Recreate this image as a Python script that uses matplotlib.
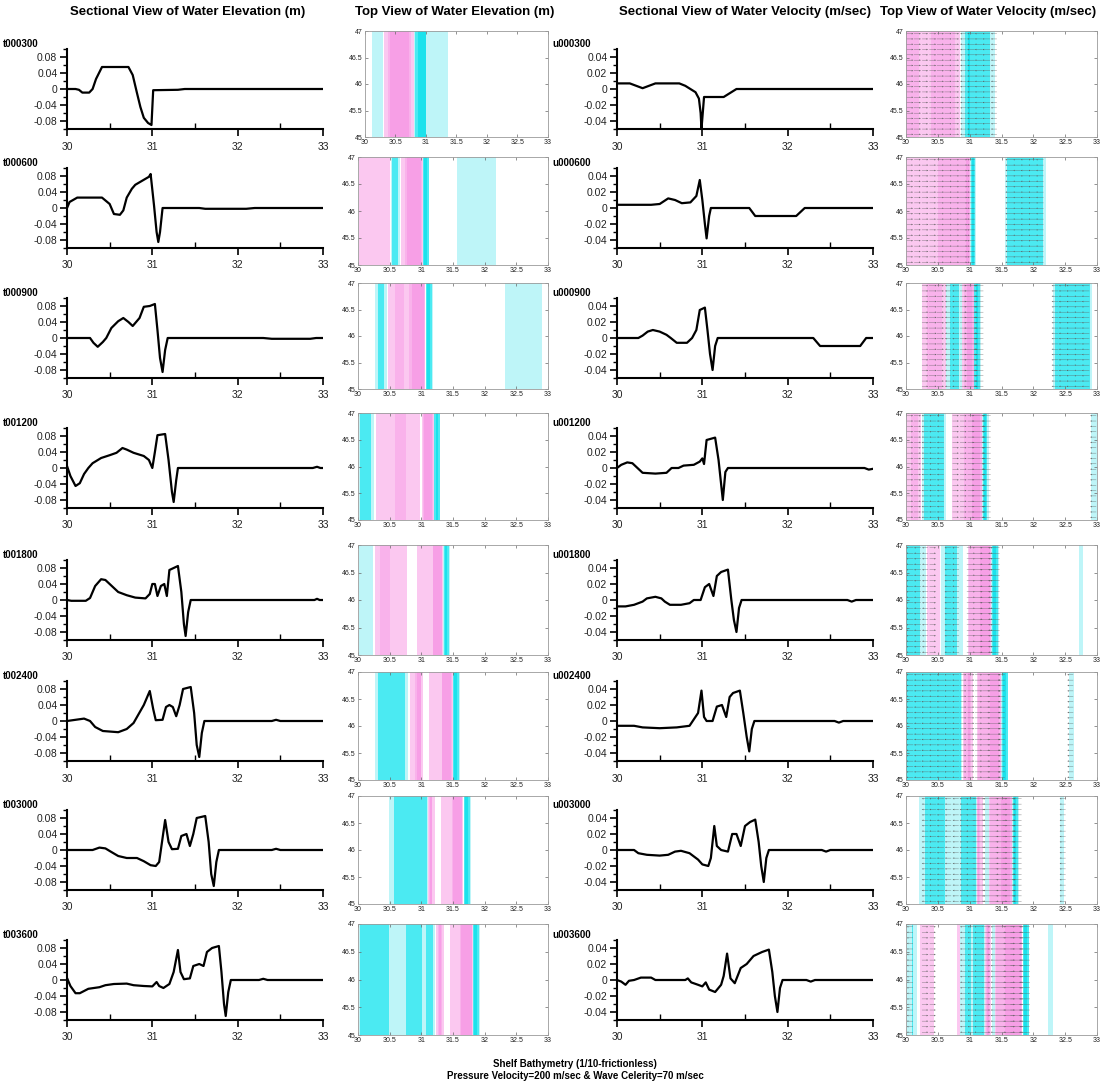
import numpy as np
import matplotlib
matplotlib.use("Agg")
import matplotlib.pyplot as plt
from matplotlib.ticker import MultipleLocator, FixedLocator, FuncFormatter

plt.rcParams['font.family'] = ['Liberation Sans', 'DejaVu Sans']

# ---- sectional profiles: (distance, water elevation in m) ----
elev_t000300 = [(30.0, 0.0), (30.1, 0.0), (30.14, -0.002), (30.18, -0.009), (30.26, -0.009), (30.3, 0.0),
                (30.34, 0.025), (30.41, 0.055), (30.72, 0.055), (30.77, 0.035), (30.82, -0.01), (30.86, -0.045),
                (30.9, -0.072), (30.95, -0.085), (30.99, -0.09), (31.01, -0.003), (31.3, -0.002), (31.38, 0.0),
                (33.0, 0.0)]
elev_t000600 = [(30.0, 0.0), (30.03, 0.015), (30.12, 0.026), (30.41, 0.026), (30.5, 0.01), (30.55, -0.015),
                (30.62, -0.017), (30.66, -0.006), (30.7, 0.026), (30.76, 0.048), (30.8, 0.058), (30.96, 0.078),
                (30.98, 0.085), (31.02, 0.006), (31.05, -0.06), (31.07, -0.085), (31.09, -0.06), (31.12, 0.0),
                (31.55, 0.0), (31.62, -0.002), (32.1, -0.002), (32.2, 0.0), (33.0, 0.0)]
elev_t000900 = [(30.0, 0.0), (30.27, 0.0), (30.31, -0.012), (30.36, -0.022), (30.42, -0.01), (30.46, 0.0),
                (30.52, 0.025), (30.6, 0.042), (30.66, 0.05), (30.72, 0.04), (30.77, 0.03), (30.85, 0.05),
                (30.9, 0.078), (30.97, 0.08), (31.03, 0.085), (31.06, 0.02), (31.09, -0.05), (31.12, -0.085),
                (31.15, -0.03), (31.18, 0.0), (32.3, 0.0), (32.4, -0.002), (32.85, -0.002), (32.92, 0.0),
                (33.0, 0.0)]
elev_t001200 = [(30.0, 0.005), (30.04, -0.02), (30.1, -0.045), (30.15, -0.038), (30.2, -0.015), (30.25, 0.0),
                (30.3, 0.012), (30.4, 0.025), (30.5, 0.032), (30.58, 0.038), (30.65, 0.05), (30.7, 0.046),
                (30.78, 0.038), (30.9, 0.03), (30.96, 0.02), (31.0, 0.0), (31.03, 0.04), (31.06, 0.082),
                (31.15, 0.085), (31.19, 0.02), (31.23, -0.06), (31.25, -0.085), (31.28, -0.03), (31.3, 0.0),
                (32.88, 0.0), (32.93, 0.003), (32.97, 0.0), (33.0, 0.0)]
elev_t001800 = [(30.0, 0.0), (30.05, -0.002), (30.22, -0.002), (30.27, 0.005), (30.33, 0.035), (30.4, 0.052),
                (30.45, 0.05), (30.5, 0.04), (30.6, 0.02), (30.7, 0.012), (30.8, 0.006), (30.92, 0.004),
                (30.97, 0.015), (31.0, 0.04), (31.03, 0.04), (31.06, 0.01), (31.1, 0.035), (31.14, 0.04),
                (31.17, 0.01), (31.2, 0.075), (31.3, 0.085), (31.34, 0.02), (31.37, -0.06), (31.39, -0.09),
                (31.42, -0.03), (31.45, 0.0), (32.9, 0.0), (32.93, 0.003), (32.96, 0.0), (33.0, 0.0)]
elev_t002400 = [(30.0, 0.0), (30.1, 0.003), (30.2, 0.006), (30.27, 0.0), (30.33, -0.015), (30.42, -0.025),
                (30.6, -0.028), (30.7, -0.02), (30.78, -0.005), (30.82, 0.01), (30.9, 0.04), (30.97, 0.075),
                (31.01, 0.03), (31.04, 0.002), (31.12, 0.003), (31.16, 0.035), (31.2, 0.04), (31.24, 0.035),
                (31.28, 0.012), (31.32, 0.04), (31.36, 0.08), (31.45, 0.085), (31.49, 0.02), (31.52, -0.06),
                (31.55, -0.09), (31.58, -0.03), (31.61, 0.0), (32.4, 0.0), (32.45, 0.003), (32.5, 0.0),
                (33.0, 0.0)]
elev_t003000 = [(30.0, 0.0), (30.3, 0.0), (30.38, 0.006), (30.45, 0.004), (30.52, -0.005), (30.6, -0.015),
                (30.7, -0.02), (30.82, -0.02), (30.9, -0.028), (30.98, -0.038), (31.04, -0.04), (31.08, -0.03),
                (31.12, 0.03), (31.15, 0.075), (31.19, 0.02), (31.23, 0.002), (31.3, 0.003), (31.34, 0.035),
                (31.4, 0.04), (31.44, 0.01), (31.48, 0.04), (31.52, 0.08), (31.62, 0.085), (31.66, 0.02),
                (31.69, -0.06), (31.72, -0.09), (31.75, -0.03), (31.78, 0.0), (32.4, 0.0), (32.45, 0.003),
                (32.5, 0.0), (33.0, 0.0)]
elev_t003600 = [(30.0, 0.005), (30.04, -0.015), (30.1, -0.033), (30.15, -0.033), (30.25, -0.022),
                (30.38, -0.018), (30.45, -0.013), (30.55, -0.01), (30.7, -0.009), (30.78, -0.013), (30.9, -0.015),
                (31.0, -0.016), (31.05, -0.005), (31.08, -0.015), (31.13, -0.02), (31.2, -0.01), (31.25, 0.02),
                (31.3, 0.075), (31.33, 0.02), (31.37, 0.002), (31.44, 0.004), (31.48, 0.035), (31.55, 0.04),
                (31.6, 0.035), (31.64, 0.07), (31.7, 0.08), (31.78, 0.085), (31.81, 0.02), (31.84, -0.06),
                (31.86, -0.09), (31.89, -0.03), (31.92, 0.0), (32.25, 0.0), (32.3, 0.003), (32.35, 0.0),
                (33.0, 0.0)]

# ---- sectional profiles: (distance, water velocity in m/sec) ----
vel_u000300 = [(30.0, 0.007), (30.15, 0.007), (30.3, 0.001), (30.45, 0.007), (30.73, 0.007), (30.8, 0.004),
               (30.86, 0.0), (30.92, -0.004), (30.96, -0.012), (30.98, -0.03), (30.99, -0.05), (31.02, -0.01),
               (31.25, -0.01), (31.4, 0.0), (33.0, 0.0)]
vel_u000600 = [(30.0, 0.004), (30.4, 0.004), (30.5, 0.005), (30.6, 0.012), (30.68, 0.01), (30.76, 0.006),
               (30.86, 0.007), (30.93, 0.015), (30.97, 0.035), (31.0, 0.01), (31.03, -0.02), (31.05, -0.038),
               (31.08, -0.01), (31.1, 0.0), (31.55, 0.0), (31.62, -0.01), (32.1, -0.01), (32.2, 0.0), (33.0, 0.0)]
vel_u000900 = [(30.0, 0.0), (30.25, 0.0), (30.3, 0.003), (30.36, 0.008), (30.42, 0.01), (30.5, 0.008),
               (30.58, 0.004), (30.63, 0.0), (30.7, -0.006), (30.82, -0.006), (30.88, 0.0), (30.93, 0.01),
               (30.97, 0.035), (31.03, 0.038), (31.06, 0.01), (31.09, -0.02), (31.12, -0.04), (31.15, -0.01),
               (31.18, 0.0), (32.3, 0.0), (32.38, -0.01), (32.85, -0.01), (32.92, 0.0), (33.0, 0.0)]
vel_u001200 = [(30.0, 0.0), (30.05, 0.004), (30.12, 0.007), (30.18, 0.006), (30.24, 0.0), (30.3, -0.006),
               (30.45, -0.007), (30.58, -0.006), (30.64, 0.0), (30.72, 0.0), (30.78, 0.003), (30.9, 0.004),
               (30.97, 0.008), (31.0, 0.012), (31.02, 0.005), (31.05, 0.035), (31.15, 0.038), (31.19, 0.01),
               (31.22, -0.02), (31.24, -0.04), (31.27, -0.005), (31.3, 0.0), (32.9, 0.0), (32.95, -0.002),
               (33.0, -0.001)]
vel_u001800 = [(30.0, -0.008), (30.1, -0.008), (30.2, -0.006), (30.3, -0.002), (30.35, 0.002), (30.45, 0.004),
               (30.52, 0.002), (30.56, -0.002), (30.62, -0.006), (30.75, -0.006), (30.85, -0.004), (30.9, 0.0),
               (30.98, 0.0), (31.03, 0.016), (31.08, 0.02), (31.13, 0.005), (31.17, 0.03), (31.22, 0.035),
               (31.3, 0.038), (31.34, 0.0), (31.37, -0.025), (31.4, -0.04), (31.43, -0.01), (31.46, 0.0),
               (32.7, 0.0), (32.75, -0.002), (32.8, 0.0), (33.0, 0.0)]
vel_u002400 = [(30.0, -0.006), (30.2, -0.006), (30.3, -0.008), (30.5, -0.009), (30.7, -0.008), (30.85, -0.006),
               (30.9, 0.002), (30.95, 0.01), (30.99, 0.038), (31.02, 0.005), (31.05, 0.0), (31.12, 0.0),
               (31.17, 0.018), (31.23, 0.02), (31.28, 0.005), (31.32, 0.03), (31.36, 0.035), (31.44, 0.038),
               (31.48, 0.01), (31.52, -0.02), (31.55, -0.038), (31.58, -0.01), (31.61, 0.0), (32.55, 0.0),
               (32.6, -0.002), (32.65, 0.0), (33.0, 0.0)]
vel_u003000 = [(30.0, 0.0), (30.2, 0.0), (30.25, -0.004), (30.35, -0.006), (30.5, -0.007), (30.6, -0.006),
               (30.68, -0.002), (30.75, -0.001), (30.85, -0.004), (30.95, -0.012), (31.0, -0.018), (31.07, -0.02),
               (31.1, -0.01), (31.14, 0.03), (31.17, 0.005), (31.22, 0.0), (31.3, -0.002), (31.35, 0.02),
               (31.4, 0.02), (31.45, 0.005), (31.5, 0.03), (31.56, 0.035), (31.62, 0.038), (31.66, 0.01),
               (31.69, -0.02), (31.72, -0.04), (31.75, -0.01), (31.78, 0.0), (32.4, 0.0), (32.45, -0.002),
               (32.5, 0.0), (33.0, 0.0)]
vel_u003600 = [(30.0, 0.0), (30.05, -0.002), (30.1, -0.006), (30.14, -0.001), (30.2, 0.0), (30.28, 0.003),
               (30.4, 0.003), (30.45, 0.0), (30.8, 0.0), (30.83, 0.002), (30.87, -0.003), (30.95, -0.006),
               (31.0, -0.008), (31.04, -0.003), (31.08, -0.012), (31.15, -0.015), (31.22, -0.006), (31.25, 0.005),
               (31.29, 0.033), (31.33, 0.002), (31.38, -0.004), (31.45, 0.015), (31.52, 0.02), (31.6, 0.03),
               (31.7, 0.035), (31.78, 0.038), (31.82, 0.01), (31.85, -0.02), (31.88, -0.04), (31.91, -0.01),
               (31.94, 0.0), (32.22, 0.0), (32.27, -0.002), (32.32, 0.0), (33.0, 0.0)]

elev_labels = ["t000300", "t000600", "t000900", "t001200", "t001800", "t002400", "t003000", "t003600"]
vel_labels = ["u000300", "u000600", "u000900", "u001200", "u001800", "u002400", "u003000", "u003600"]
elev_profiles = [elev_t000300, elev_t000600, elev_t000900, elev_t001200,
                 elev_t001800, elev_t002400, elev_t003000, elev_t003600]
vel_profiles = [vel_u000300, vel_u000600, vel_u000900, vel_u001200,
                vel_u001800, vel_u002400, vel_u003000, vel_u003600]

# contour classes for the plan views
band_colors = ['#1CE2EC', '#4BEAF2', '#BEF5F8', '#FFFFFF', '#FBC8F0', '#F9B2EB', '#F79FE6']
elev_levels = [-1.0, -0.05, -0.012, -0.0005, 0.008, 0.04, 0.053, 1.0]
vel_levels = [-1.0, -0.025, -0.005, -0.0005, 0.0005, 0.005, 0.025, 1.0]

# ---- layout (pixel geometry of the 1100 x 1084 canvas) ----
W, H = 1100, 1084
zero_rows = [89, 208, 338, 468, 600, 721, 850, 980]
tv_tops = [31, 157, 283, 413, 545, 672, 796, 924]
tv_bots = [137, 265, 389, 520, 655, 780, 904, 1035]

fig = plt.figure(figsize=(W / 100, H / 100), dpi=100)


def add_px_axes(x0, y0, x1, y1):
    return fig.add_axes([x0 / W, 1 - y1 / H, (x1 - x0) / W, (y1 - y0) / H])


def style_section(ax, ylim, major, minor, fmt):
    ax.set_xlim(30, 33)
    ax.set_ylim(-ylim, ylim)
    for s in ('top', 'right'):
        ax.spines[s].set_visible(False)
    for s in ('left', 'bottom'):
        ax.spines[s].set_linewidth(1.5)
    ax.xaxis.set_major_locator(FixedLocator([30, 31, 32, 33]))
    ax.xaxis.set_minor_locator(FixedLocator([30.5, 31.5, 32.5]))
    ax.yaxis.set_major_locator(FixedLocator(major))
    ax.yaxis.set_minor_locator(MultipleLocator(minor))
    ax.yaxis.set_major_formatter(FuncFormatter(fmt))
    ax.xaxis.set_major_formatter(FuncFormatter(lambda v, p: f"{v:g}"))
    ax.tick_params(axis='y', which='major', direction='out', length=5, width=1.2, labelsize=7.5, pad=2,
                   labelcolor='#222')
    ax.tick_params(axis='y', which='minor', direction='out', length=3, width=1.0)
    ax.tick_params(axis='x', which='major', direction='out', length=5, width=1.2, labelsize=7.5, pad=4,
                   labelcolor='#222')
    ax.tick_params(axis='x', which='minor', direction='in', length=4, width=1.0)


def fmt_value(v, p):
    return "0" if abs(v) < 1e-9 else f"{v:.2f}"


def style_plan(ax):
    ax.set_xlim(30, 33)
    ax.set_ylim(45, 47)
    ax.set_xticks([30, 30.5, 31, 31.5, 32, 32.5, 33])
    ax.set_yticks([45, 45.5, 46, 46.5, 47])
    ax.xaxis.set_major_formatter(FuncFormatter(lambda v, p: f"{v:g}"))
    ax.yaxis.set_major_formatter(FuncFormatter(lambda v, p: f"{v:g}"))
    ax.tick_params(which='both', direction='in', length=2, width=0.5, labelsize=5,
                   pad=1.5, top=True, right=True, colors='#666', labelcolor='#222')
    for s in ax.spines.values():
        s.set_linewidth(0.6)
        s.set_color('#9a9a9a')


def plan_bands(ax, prof, levels):
    xs = np.array([p[0] for p in prof])
    vs = np.array([p[1] for p in prof])
    ys = np.array([45.0, 47.0])
    X, Y = np.meshgrid(xs, ys)
    Z = np.vstack([vs, vs])
    ax.contourf(X, Y, Z, levels=levels, colors=band_colors, antialiased=False)
    return xs, vs


for i in range(8):
    z = zero_rows[i]

    # sectional elevation
    ax1 = add_px_axes(67, z - 40, 323, z + 40)
    xs = [p[0] for p in elev_profiles[i]]
    vs = [p[1] for p in elev_profiles[i]]
    ax1.plot(xs, vs, color='black', lw=1.6, solid_joinstyle='round')
    style_section(ax1, 0.1, [-0.08, -0.04, 0, 0.04, 0.08], 0.02, fmt_value)
    fig.text(3 / W, 1 - (z - 45) / H, elev_labels[i], fontsize=7, fontweight='bold', va='center', ha='left')

    # plan view of elevation
    left = 365 if i == 0 else 358
    ax2 = add_px_axes(left, tv_tops[i], 548, tv_bots[i])
    plan_bands(ax2, elev_profiles[i], elev_levels)
    style_plan(ax2)

    # sectional velocity
    ax3 = add_px_axes(617, z - 40, 873, z + 40)
    xs = [p[0] for p in vel_profiles[i]]
    vs = [p[1] for p in vel_profiles[i]]
    ax3.plot(xs, vs, color='black', lw=1.6, solid_joinstyle='round')
    style_section(ax3, 0.05, [-0.04, -0.02, 0, 0.02, 0.04], 0.01, fmt_value)
    fig.text(552 / W, 1 - (z - 45) / H, vel_labels[i], fontsize=7, fontweight='bold', va='center', ha='left')

    # plan view of velocity with flow arrows (arrow length grows with speed)
    ax4 = add_px_axes(906, tv_tops[i], 1097, tv_bots[i])
    px, pv = plan_bands(ax4, vel_profiles[i], vel_levels)
    xq = np.arange(30.06, 33.0, 0.12)
    yq = np.arange(45.05, 47.0, 0.1)
    uq = np.interp(xq, px, pv)
    keep = np.abs(uq) >= 0.0005
    arrow_len = np.sign(uq[keep]) * (0.09 + 3.0 * np.abs(uq[keep]))
    XQ, YQ = np.meshgrid(xq[keep], yq)
    UQ = np.tile(arrow_len, (len(yq), 1))
    ax4.quiver(XQ, YQ, UQ, np.zeros_like(UQ), angles='xy', scale_units='x', scale=1.0,
               color='#5a5a5a', width=0.0018, headwidth=4.5, headlength=5, headaxislength=4.5,
               pivot='middle')
    style_plan(ax4)

# column headings
for xc, title in [(188, "Sectional View of Water Elevation (m)"),
                  (455, "Top View of Water Elevation (m)"),
                  (745, "Sectional View of Water Velocity (m/sec)"),
                  (988, "Top View of Water Velocity (m/sec)")]:
    fig.text(xc / W, 1 - 12 / H, title, fontsize=9.5, fontweight='bold', ha='center', va='center')

fig.text(575 / W, 1 - 1064 / H, "Shelf Bathymetry (1/10-frictionless)", fontsize=7, fontweight='bold',
         ha='center', va='center')
fig.text(575 / W, 1 - 1076 / H, "Pressure Velocity=200 m/sec & Wave Celerity=70 m/sec", fontsize=7,
         fontweight='bold', ha='center', va='center')

fig.savefig("out.png", dpi=100, facecolor='white')
